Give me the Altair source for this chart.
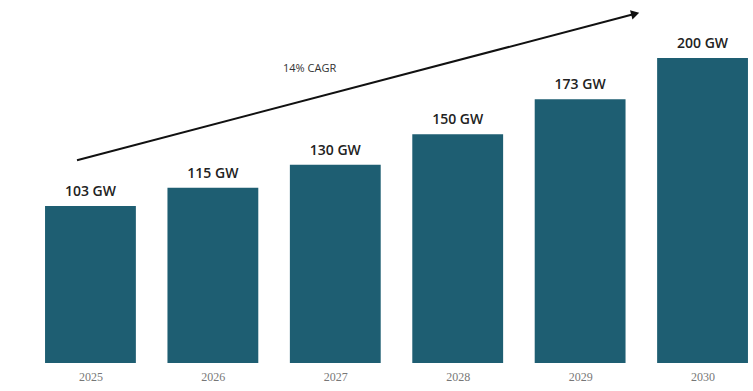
import altair as alt
import pandas as pd

years = [2025, 2026, 2027, 2028, 2029, 2030]
capacity_gw = [103, 115, 130, 150, 173, 200]
labels = ["103 GW", "115 GW", "130 GW", "150 GW", "173 GW", "200 GW"]

# annotation arrow (in year / GW units)
arrow_x = [2024.89, 2029.45]
arrow_y = [133, 229]
cagr_text = ["14% CAGR"]
cagr_x = [2026.79]
cagr_y = [193]

bars_df = pd.DataFrame({"year": years, "gw": capacity_gw, "label": labels})
arrow_df = pd.DataFrame({"x": arrow_x, "y": arrow_y})
head_df = pd.DataFrame({"x": [arrow_x[-1]], "y": [arrow_y[-1]]})
text_df = pd.DataFrame({"x": cagr_x, "y": cagr_y, "t": cagr_text})

W, H = 711, 353
YMAX = 231.5
HALF = 0.371
BAR = "#1e5e72"

xs = alt.Scale(domain=[2024.596, 2030.404], nice=False, zero=False)
ys = alt.Scale(domain=[0, YMAX], nice=False)
xaxis = alt.Axis(title=None, values=years, format="d", labelAngle=0, domain=False,
                 ticks=False, grid=False, labelColor="#777777",
                 labelFont="Liberation Serif", labelFontSize=12, labelPadding=8)

bars = alt.Chart(bars_df).transform_calculate(
    x0=f"datum.year - {HALF}", x1=f"datum.year + {HALF}"
).mark_rect(color=BAR).encode(
    x=alt.X("x0:Q", scale=xs, axis=xaxis),
    x2="x1:Q",
    y=alt.Y("gw:Q", scale=ys, axis=None),
    y2=alt.datum(0),
)
lbls = alt.Chart(bars_df).mark_text(baseline="bottom", dy=-7, fontSize=14,
                                    font="Open Sans", fontWeight=600,
                                    color="#222222").encode(
    x=alt.X("year:Q"), y=alt.Y("gw:Q"), text="label:N")

line = alt.Chart(arrow_df).mark_line(color="#111111", strokeWidth=2).encode(
    x="x:Q", y="y:Q")
head = alt.Chart(head_df).mark_point(shape="triangle-up", filled=True, size=90,
                                     color="#111111", opacity=1, angle=75).encode(
    x="x:Q", y="y:Q")
txt = alt.Chart(text_df).mark_text(fontSize=11, font="Open Sans", color="#333333").encode(
    x="x:Q", y="y:Q", text="t:N")

chart = alt.layer(bars, lbls, line, head, txt).properties(
    width=W, height=H,
    background="white",
    autosize=alt.AutoSizeParams(type="none"),
    padding={"left": 41, "top": 10, "right": 1, "bottom": 28},
).configure_view(strokeWidth=0)

chart.save("out.html", embed_options={"renderer": "svg", "actions": False})
